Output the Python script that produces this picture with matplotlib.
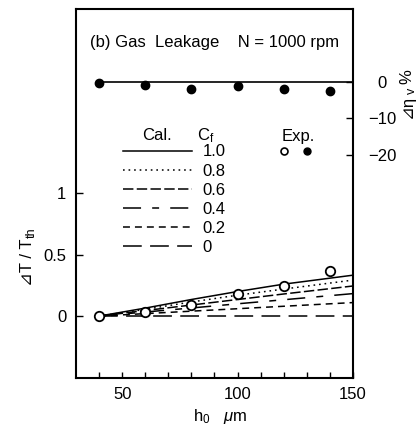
import matplotlib
matplotlib.use("Agg")
import matplotlib.pyplot as plt
from matplotlib.lines import Line2D
from matplotlib.legend_handler import HandlerTuple

plt.rcParams['font.family'] = ['Liberation Sans', 'DejaVu Sans', 'Noto Sans CJK JP']
plt.rcParams['mathtext.fontset'] = 'custom'
plt.rcParams['mathtext.rm'] = 'Liberation Sans'
plt.rcParams['mathtext.it'] = 'Liberation Sans:italic'
plt.rcParams['lines.scale_dashes'] = False
plt.rcParams['font.size'] = 12

# ---- data ----
h_exp = [40, 60, 80, 100, 120, 140]
dT_exp = [0.0, 0.035, 0.089, 0.183, 0.248, 0.37]
deta_exp = [-0.3, -0.8, -2.0, -1.1, -2.0, -2.5]

h_cal = [40, 60, 80, 100, 120, 150]
cf_labels = ['1.0', '0.8', '0.6', '0.4', '0.2', '0']
cal_10 = [0, 0.065, 0.135, 0.20, 0.26, 0.333]
cal_08 = [0, 0.055, 0.115, 0.17, 0.22, 0.293]
cal_06 = [0, 0.045, 0.09, 0.135, 0.18, 0.245]
cal_04 = [0, 0.033, 0.066, 0.10, 0.133, 0.183]
cal_02 = [0, 0.02, 0.04, 0.06, 0.08, 0.11]
cal_00 = [0, 0, 0, 0, 0, 0]
h_eta_line = [40, 150]
eta_line = [0, 0]

styles = ['-', (0, (1.2, 2.8)), (0, (7.5, 2.4)), (0, (13, 8, 5, 8)),
          (0, (5, 3.6)), (0, (13.5, 6))]

fig = plt.figure(figsize=(4.17, 4.26), dpi=100)
ax = fig.add_axes([76/417, 1-377.5/426, 277/417, 368.5/426])
ax.set_xlim(30, 150)
ax.set_ylim(-0.5, 2.5)

handles = []
for vals, ls in zip([cal_10, cal_08, cal_06, cal_04, cal_02, cal_00], styles):
    ln, = ax.plot(h_cal, vals, color='black', lw=1.1, linestyle=ls)
    handles.append(ln)

ax.plot(h_exp, dT_exp, linestyle='none', marker='o', ms=6.8, mfc='white',
        mec='black', mew=1.3, zorder=5, clip_on=False)

ax.set_xticks([50, 100, 150])
ax.set_xticks(list(range(40, 150, 10)), minor=True)
ax.set_yticks([0, 0.5, 1])
ax.set_yticklabels(['0', '0.5', '1'])
ax.tick_params(axis='x', which='both', direction='in', length=4.5, width=1.0,
               pad=7, top=False)
ax.tick_params(axis='y', which='both', direction='in', length=5, width=1.0,
               pad=7, right=False)
for s in ax.spines.values():
    s.set_linewidth(1.5)

ax.set_xlabel(r'h$_0$   $\mu$m', va='center')
ax.xaxis.set_label_coords((220-76)/277, (377.5-416.5)/368.5)

# left y label: "⊿T / T" + subscript "th"
ylab = ax.set_ylabel('⊿T / T', va='center', ha='center')
ax.yaxis.set_label_coords((27-76)/277, (377.5-262)/368.5)
ax.annotate('th', xy=(1, 1), xycoords=ylab, xytext=(2.2, 0.3),
            textcoords='offset points', rotation=90, ha='right', va='bottom',
            fontsize=9, annotation_clip=False)

# right axis
ax2 = ax.twinx()
ax2.set_ylim(-81, 20)
ax2.plot(h_eta_line, eta_line, color='black', lw=1.2)
ax2.plot(h_exp, deta_exp, linestyle='none', marker='o', ms=6.0, color='black',
         clip_on=False)
ax2.set_yticks([0, -10, -20])
ax2.tick_params(axis='y', direction='in', length=5, width=1.0, pad=21)
for lab in ax2.get_yticklabels():
    lab.set_horizontalalignment('center')
for s in ax2.spines.values():
    s.set_visible(False)

# right y label: "⊿η" + subscript "v" + " %"
ylab2 = ax2.set_ylabel('⊿η', va='center', ha='center', rotation=90)
ax2.yaxis.set_label_coords((407-76)/277, (377.5-106)/368.5)
ann_v = ax2.annotate('v', xy=(1, 1), xycoords=ylab2, xytext=(2.2, 0.3),
                     textcoords='offset points', rotation=90, ha='right',
                     va='bottom', fontsize=9, annotation_clip=False)
ax2.annotate('%', xy=(1, 1), xycoords=(ylab2, ann_v), xytext=(0, 3),
             textcoords='offset points', rotation=90, ha='right', va='bottom',
             annotation_clip=False)

# title text
ax.text((90-76)/277, (377.5-42.7)/368.5, '(b) Gas  Leakage    N = 1000 rpm',
        transform=ax.transAxes, ha='left', va='center')

# legend for calculations
leg = ax.legend(handles, cf_labels, loc='upper left', frameon=False,
                bbox_to_anchor=((122.7-76)/277, (377.5-144.5)/368.5),
                borderaxespad=0, borderpad=0, handlelength=4.13,
                handletextpad=0.66, labelspacing=0.25)
ax.add_artist(leg)

# legend for experiments
h_open = Line2D([], [], linestyle='none', marker='o', ms=5, mfc='white',
                mec='black', mew=1.2)
h_fill = Line2D([], [], linestyle='none', marker='o', ms=5, color='black')
leg2 = ax.legend([(h_open, h_fill)], [''], loc='upper left', frameon=False,
                 bbox_to_anchor=((272.5-76)/277, (377.5-144.5)/368.5),
                 borderaxespad=0, borderpad=0, handlelength=2.75,
                 handletextpad=0,
                 handler_map={tuple: HandlerTuple(ndivide=None, pad=0)})

# headers
ax.text((156.7-76)/277, (377.5-136)/368.5, 'Cal.', transform=ax.transAxes,
        ha='center', va='center')
ax.text((206-76)/277, (377.5-136)/368.5, r'C$_{\rm f}$', transform=ax.transAxes,
        ha='center', va='center')
ax.text((298.5-76)/277, (377.5-136)/368.5, 'Exp.', transform=ax.transAxes,
        ha='center', va='center')

fig.savefig('out.png', dpi=100)
